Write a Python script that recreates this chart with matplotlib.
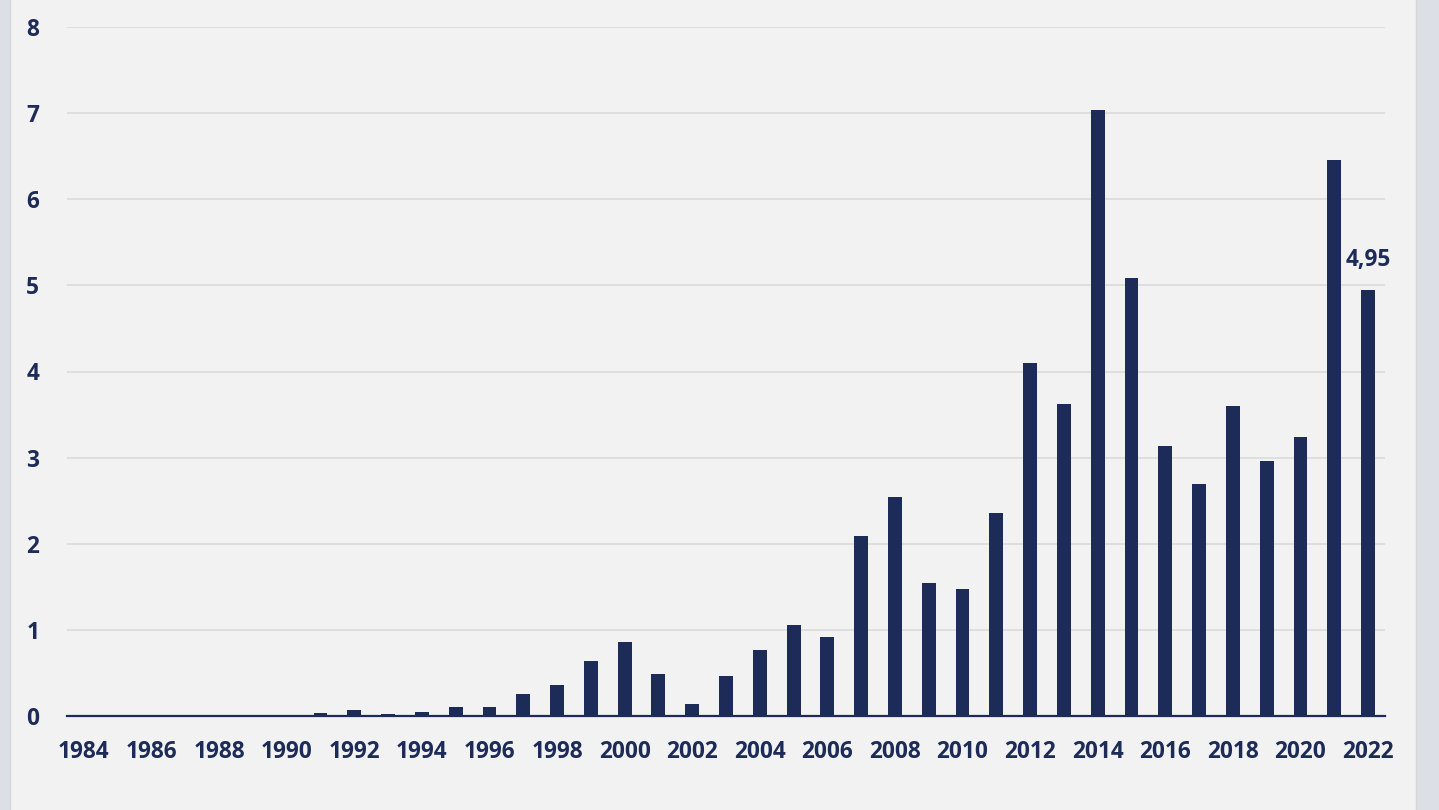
import numpy as np
import matplotlib.pyplot as plt
from matplotlib.patches import Rectangle

years = list(range(1984, 2023))
values = [0, 0, 0, 0, 0, 0, -0.01, 0.03, 0.07, 0.02, 0.05, 0.11, 0.11,
          0.25, 0.36, 0.64, 0.86, 0.49, 0.135, 0.47, 0.77, 1.06, 0.92,
          2.09, 2.54, 1.55, 1.48, 2.36, 4.10, 3.62, 7.04, 5.09, 3.14,
          2.69, 3.60, 2.96, 3.24, 6.45, 4.95]
year_labels = [str(y) for y in years[::2]]

navy = '#1c2b57'
plt.rcParams['font.family'] = ['Open Sans', 'DejaVu Sans']

fig = plt.figure(figsize=(14.39, 8.10), dpi=100)
fig.patch.set_facecolor('#dce0e6')

# light panel behind the chart
bg = fig.add_axes([0, 0, 1, 1], zorder=-1)
bg.set_axis_off()
bg.add_patch(Rectangle((10 / 1439, -0.01), 1406 / 1439, 1.02,
                       transform=bg.transAxes, facecolor='#f2f2f2',
                       edgecolor='#d6d6d6', linewidth=1))

ax = fig.add_axes([67 / 1439, 94 / 810, 1318 / 1439, 689 / 810])
ax.set_facecolor('none')

ax.bar(years, values, width=0.41, color=navy, zorder=3)

ax.set_xlim(1983.5, 2022.5)
ax.set_ylim(0, 8)
ax.set_yticks(range(0, 9))
ax.set_xticks(years[::2])
ax.set_xticklabels(year_labels)

ax.grid(axis='y', color='#d9d9d9', linewidth=1.1, zorder=0)
for s in ['top', 'right', 'left']:
    ax.spines[s].set_visible(False)
ax.spines['bottom'].set_color(navy)
ax.spines['bottom'].set_linewidth(1.6)
ax.spines['bottom'].set_zorder(4)

ax.tick_params(axis='both', length=0, colors=navy, labelsize=16.3)
ax.tick_params(axis='y', pad=20)
ax.tick_params(axis='x', pad=17.5)
for lab in ax.get_xticklabels() + ax.get_yticklabels():
    lab.set_fontweight('bold')

# value label on the last bar
ax.annotate('4,95', (years[-1], values[-1]), xytext=(0, 12.5),
            textcoords='offset points', ha='center', va='bottom',
            color=navy, fontsize=16.3, fontweight='bold')

fig.savefig('out.png', dpi=100, facecolor=fig.get_facecolor())
